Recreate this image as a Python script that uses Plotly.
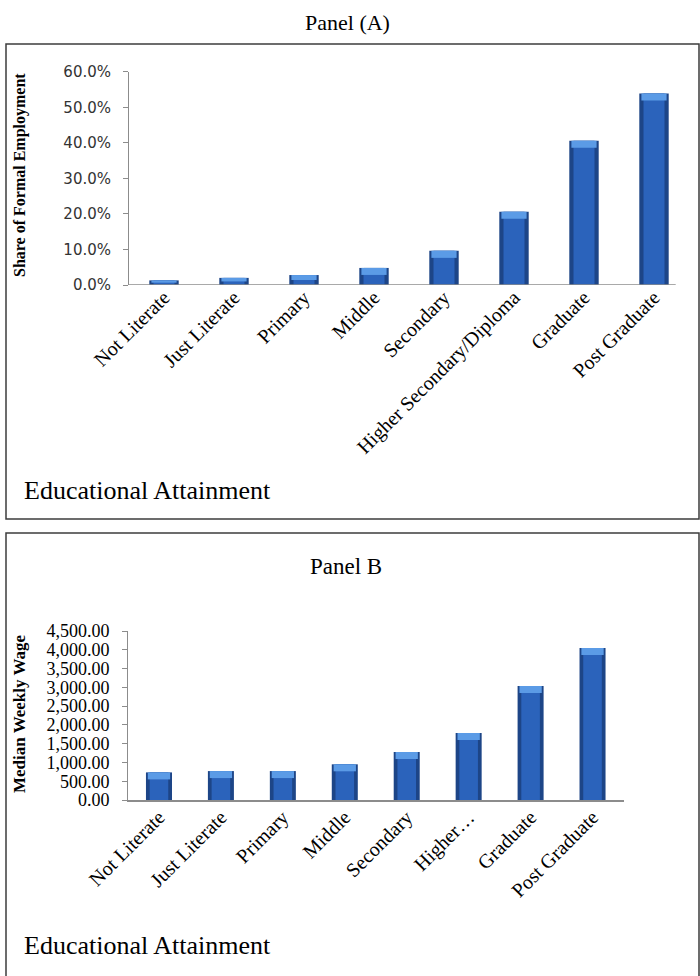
import plotly.graph_objects as go

# Educational attainment categories
levels_a = ["Not Literate", "Just Literate", "Primary", "Middle", "Secondary",
            "Higher Secondary/Diploma", "Graduate", "Post Graduate"]
levels_b = ["Not Literate", "Just Literate", "Primary", "Middle", "Secondary",
            "Higher…", "Graduate", "Post Graduate"]

# Panel A: share of formal employment (fraction)
share_formal = [0.013, 0.020, 0.028, 0.048, 0.096, 0.206, 0.406, 0.539]
# Panel B: median weekly wage
median_wage = [735, 770, 770, 950, 1280, 1785, 3035, 4045]

ticks_a = [0, 0.1, 0.2, 0.3, 0.4, 0.5, 0.6]
ticks_b = list(range(0, 4501, 500))

W, H = 700, 976
SERIF = "Liberation Serif, Times New Roman, serif"
SANS = "DejaVu Sans, Verdana, sans-serif"

# bar colours: dark rim, mid-blue face, light bevel cap
RIM = "#1d4587"
FACE = "#2b63bb"
CAP = "#5b9be6"

# pixel geometry of the two plot areas
A_X = (129, 689)
A_Y = (285, 71.7)      # y pixel of range min / max
B_X = (128, 623.5)
B_Y = (800, 631)

def px(v):
    return v / W

def py(v):
    return 1 - v / H

fig = go.Figure()

def add_bars(xs, vals, xaxis, yaxis, ymax, ypix):
    per_px = ymax / (ypix[0] - ypix[1])
    cap_h = [min(7 * per_px, 0.5 * v) for v in vals]
    fig.add_trace(go.Bar(x=xs, y=vals, width=0.42, marker=dict(color=RIM, line=dict(width=0)),
                         xaxis=xaxis, yaxis=yaxis, showlegend=False, hoverinfo="skip"))
    fig.add_trace(go.Bar(x=xs, y=vals, width=0.30, marker=dict(color=FACE, line=dict(width=0)),
                         xaxis=xaxis, yaxis=yaxis, showlegend=False, hoverinfo="skip"))
    fig.add_trace(go.Bar(x=xs, y=cap_h, base=[v - c for v, c in zip(vals, cap_h)], width=0.36,
                         marker=dict(color=CAP, line=dict(width=0)),
                         xaxis=xaxis, yaxis=yaxis, showlegend=False, hoverinfo="skip"))

add_bars(levels_a, share_formal, "x", "y", 0.6, A_Y)
add_bars(levels_b, median_wage, "x2", "y2", 4500, B_Y)

axis_grey = "#8c8c8c"

fig.update_layout(
    width=W, height=H,
    margin=dict(l=0, r=0, t=0, b=0, pad=0, autoexpand=False),
    paper_bgcolor="white", plot_bgcolor="white",
    barmode="overlay",
    xaxis=dict(domain=[px(A_X[0]), px(A_X[1])], anchor="y", range=[-0.5, 7.5],
               automargin=False, showline=False, showgrid=False, zeroline=False, ticks="",
               tickangle=-45, ticklabelstandoff=-4,
               tickfont=dict(family=SERIF, size=20, color="black")),
    yaxis=dict(domain=[py(A_Y[0]), py(A_Y[1])], anchor="x", range=[0, 0.6],
               automargin=False, tickvals=ticks_a, tickformat=".1%", showgrid=False,
               zeroline=False, showline=True, linecolor=axis_grey, linewidth=1,
               ticks="outside", ticklen=5, tickcolor=axis_grey, ticklabelstandoff=9,
               tickfont=dict(family=SANS, size=15, color="#333")),
    xaxis2=dict(domain=[px(B_X[0]), px(B_X[1])], anchor="y2", range=[-0.5, 7.5],
                automargin=False, showline=True, linecolor=axis_grey, linewidth=1.5,
                showgrid=False, zeroline=False, ticks="", tickangle=-45,
                ticklabelstandoff=-4,
                tickfont=dict(family=SERIF, size=20, color="black")),
    yaxis2=dict(domain=[py(B_Y[0]), py(B_Y[1])], anchor="x2", range=[0, 4500],
                automargin=False, tickvals=ticks_b, tickformat=",.2f", showgrid=False,
                zeroline=False, showline=True, linecolor=axis_grey, linewidth=1,
                ticks="outside", ticklen=5, tickcolor=axis_grey, ticklabelstandoff=9,
                tickfont=dict(family=SERIF, size=18, color="black")),
)

# category baseline of panel A
fig.add_shape(type="line", xref="x", yref="y", x0=-0.5, x1=7.31, y0=0, y1=0,
              line=dict(color=axis_grey, width=1.5))

# panel frames
fig.add_shape(type="rect", xref="paper", yref="paper",
              x0=px(6), x1=px(699), y0=py(519), y1=py(44),
              line=dict(color="#3c3c3c", width=1.5))
fig.add_shape(type="rect", xref="paper", yref="paper",
              x0=px(6), x1=px(699), y0=-0.02, y1=py(533),
              line=dict(color="#3c3c3c", width=1.5))

def note(text, x, y, size, xanchor="center", bold=False, angle=0):
    fig.add_annotation(text=f"<b>{text}</b>" if bold else text,
                       xref="paper", yref="paper", x=x, y=y,
                       xanchor=xanchor, yanchor="middle", showarrow=False,
                       textangle=angle, font=dict(family=SERIF, size=size, color="black"))

note("Panel (A)", px(347), py(22), 22)
note("Share of Formal Employment", px(20), py(175), 16, bold=True, angle=-90)
note("Educational Attainment", px(22), py(491), 26, xanchor="left")

note("Panel B", px(346), py(566), 23)
note("Median Weekly Wage", px(19), py(714), 17, bold=True, angle=-90)
note("Educational Attainment", px(22), py(945), 26, xanchor="left")

fig.write_html("out.html")
